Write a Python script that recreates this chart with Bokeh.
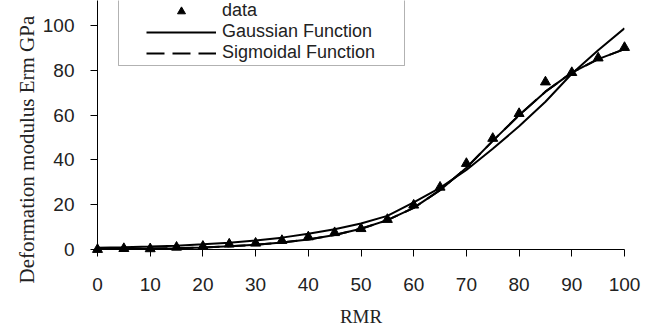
from bokeh.plotting import figure
from bokeh.models import Legend, LegendItem, Range1d, FixedTicker, Title, BoxAnnotation
from bokeh.embed import file_html
from bokeh.resources import INLINE

# ---- data ----
rmr = [0, 5, 10, 15, 20, 25, 30, 35, 40, 45, 50, 55, 60, 65, 70, 75, 80, 85, 90, 95, 100]
erm_data = [0, 0.4, 0.3, 1.0, 1.4, 2.4, 2.8, 4.0, 5.6, 7.5, 9.3, 13.4, 19.8, 27.8, 38.4,
            49.6, 60.7, 74.8, 79.0, 85.5, 90.2]
erm_gauss = [0.8, 1.0, 1.3, 1.7, 2.3, 3.0, 4.0, 5.3, 7.0, 9.0, 11.6, 15.0, 21.0, 27.5, 35.5,
             45.0, 55.0, 66.0, 78.5, 89.0, 98.8]
erm_sigm = [0.2, 0.3, 0.4, 0.6, 0.9, 1.4, 2.1, 3.1, 4.5, 6.5, 9.3, 13.1, 18.6, 26.5, 36.5,
            48.5, 60.0, 70.5, 79.0, 85.0, 89.5]
x_ticks = [0, 10, 20, 30, 40, 50, 60, 70, 80, 90, 100]
y_ticks = [0, 20, 40, 60, 80, 100]

p = figure(width=654, height=335, output_backend="svg", toolbar_location=None,
           x_range=Range1d(0, 100), y_range=Range1d(0, 111.2),
           min_border_left=97, min_border_right=30, min_border_top=0, min_border_bottom=86)
p.outline_line_color = None
p.xgrid.grid_line_color = None
p.ygrid.grid_line_color = None
p.background_fill_color = "white"

g = p.line(rmr, erm_gauss, line_color="black", line_width=2)
s_leg = p.line(rmr, erm_sigm, line_color="black", line_width=2, line_dash="18 8")
s = p.line(rmr, erm_sigm, line_color="black", line_width=2)
d = p.scatter(rmr, erm_data, marker="triangle", size=10, fill_color="black", line_color="black")
d.level = "overlay"

for ax, ticks in ((p.xaxis[0], x_ticks), (p.yaxis[0], y_ticks)):
    ax.ticker = FixedTicker(ticks=ticks)
    ax.minor_tick_line_color = None
    ax.major_tick_in = 0
    ax.major_tick_out = 7
    ax.axis_line_color = "black"
    ax.axis_line_width = 1
    ax.major_tick_line_color = "black"
    ax.major_label_text_font = "Liberation Sans"
    ax.major_label_text_font_size = "19px"
    ax.major_label_text_color = "#222222"
p.xaxis.major_label_standoff = 21
p.yaxis.major_label_standoff = 16

p.xaxis.axis_label = "RMR"
p.xaxis.axis_label_text_font = "Liberation Serif"
p.xaxis.axis_label_text_font_size = "19px"
p.xaxis.axis_label_text_font_style = "normal"
p.xaxis.axis_label_text_color = "#222222"
p.xaxis.axis_label_standoff = 12

ytitle = Title(text="Deformation modulus Erm GPa", align="left", offset=-34,
               text_font="Liberation Serif", text_font_size="21px",
               text_font_style="normal", text_color="#222222", standoff=2)
p.add_layout(ytitle, "left")

box = BoxAnnotation(left=21, right=307, bottom=184, top=400,
                    left_units="screen", right_units="screen",
                    bottom_units="screen", top_units="screen",
                    fill_color="white", fill_alpha=1, line_color="black", line_width=1)
p.add_layout(box)

legend = Legend(items=[LegendItem(label="data", renderers=[d]),
                       LegendItem(label="Gaussian Function", renderers=[g]),
                       LegendItem(label="Sigmoidal Function", renderers=[s_leg])],
                location=(49, 186), padding=0, spacing=0, margin=0,
                glyph_width=70, glyph_height=20, label_height=20, label_standoff=6,
                label_text_font="Liberation Sans", label_text_font_size="18px",
                label_text_color="#222222",
                border_line_color=None, background_fill_alpha=0)
p.add_layout(legend)

open("out.html", "w").write(file_html(p, INLINE))
